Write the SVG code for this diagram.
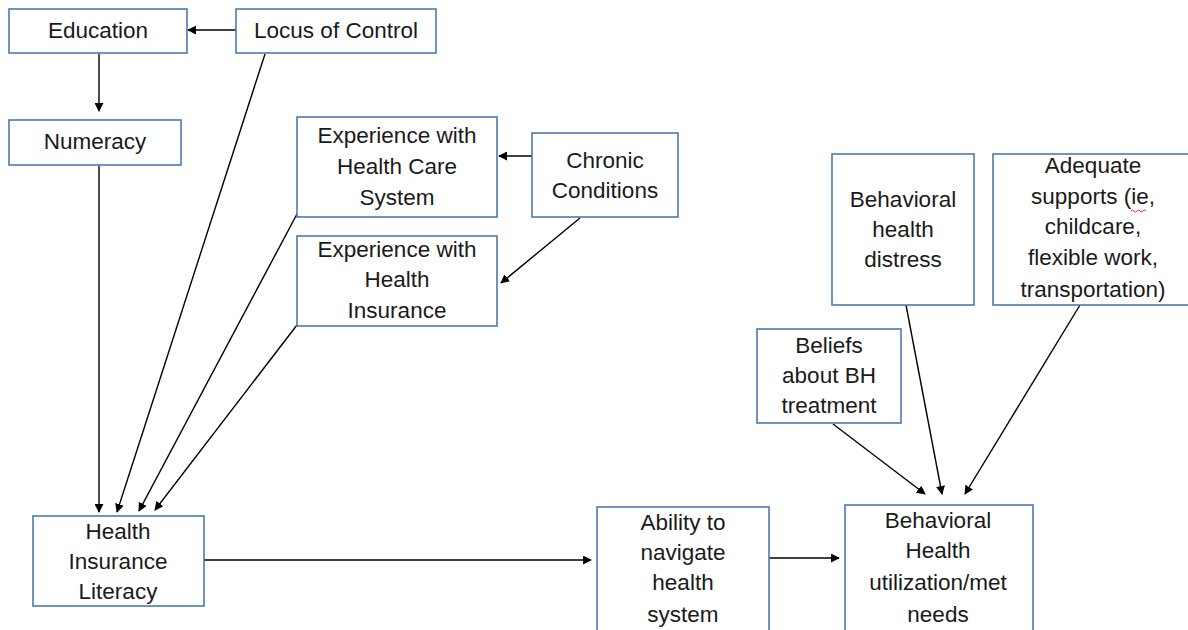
<svg xmlns="http://www.w3.org/2000/svg" width="1188" height="630" viewBox="0 0 1188 630">
<style>
.box{fill:#fff;stroke:#4a7ab0;stroke-width:1.6}
text{font-family:"Liberation Sans",Arial,sans-serif;font-size:22.5px;fill:#1a1a1a;text-anchor:middle}
.c{stroke:#000;stroke-width:1.4;fill:none;marker-end:url(#ah)}
</style>
<defs>
<marker id="ah" viewBox="0 0 10 10" refX="9" refY="5" markerWidth="9" markerHeight="9" markerUnits="userSpaceOnUse" orient="auto"><path d="M0,0 L10,5 L0,10 z" fill="#000"/></marker>
</defs>
<rect width="1188" height="630" fill="#fff"/>
<g id="connectors">
<line class="c" x1="236" y1="30" x2="188" y2="30"/>
<line class="c" x1="99" y1="54" x2="99" y2="111"/>
<line class="c" x1="99" y1="166" x2="99" y2="512"/>
<line class="c" x1="265" y1="54" x2="117" y2="512"/>
<line class="c" x1="297" y1="214" x2="139" y2="511"/>
<line class="c" x1="297" y1="325" x2="155" y2="510"/>
<line class="c" x1="532" y1="156" x2="499" y2="156"/>
<line class="c" x1="580" y1="218" x2="501" y2="283"/>
<line class="c" x1="204" y1="560" x2="591" y2="560"/>
<line class="c" x1="769" y1="558" x2="839" y2="558"/>
<line class="c" x1="833" y1="424" x2="925" y2="494"/>
<line class="c" x1="906" y1="305" x2="942" y2="494"/>
<line class="c" x1="1080" y1="305" x2="965" y2="494"/>
</g>
<g id="education"><rect class="box" x="9" y="9" width="178" height="44"/><text x="98" y="38">Education</text></g>
<g id="locus"><rect class="box" x="236" y="9" width="200" height="44"/><text x="336" y="38">Locus of Control</text></g>
<g id="numeracy"><rect class="box" x="9" y="120" width="172" height="45"/><text x="95" y="149">Numeracy</text></g>
<g id="exp-hcs"><rect class="box" x="297" y="117" width="200" height="100"/><text x="397" y="143">Experience with</text><text x="397" y="174">Health Care</text><text x="397" y="205">System</text></g>
<g id="chronic"><rect class="box" x="532" y="133" width="146" height="84"/><text x="605" y="168">Chronic</text><text x="605" y="198">Conditions</text></g>
<g id="exp-hi"><rect class="box" x="297" y="236" width="200" height="90"/><text x="397" y="257">Experience with</text><text x="397" y="287">Health</text><text x="397" y="318">Insurance</text></g>
<g id="bh-distress"><rect class="box" x="832" y="154" width="142" height="151"/><text x="903" y="207">Behavioral</text><text x="903" y="237">health</text><text x="903" y="267">distress</text></g>
<g id="supports"><rect class="box" x="993" y="154" width="200" height="151"/><text x="1093" y="173">Adequate</text><text x="1093" y="204">supports (ie,</text><text x="1093" y="234">childcare,</text><text x="1093" y="265">flexible work,</text><text x="1093" y="297">transportation)</text><path d="M1131,211 q1.5,-2 3,0 t3,0 t3,0 t3,0 t3,0" fill="none" stroke="#e03030" stroke-width="1"/></g>
<g id="beliefs"><rect class="box" x="757" y="329" width="144" height="94"/><text x="829" y="353">Beliefs</text><text x="829" y="383">about BH</text><text x="829" y="413">treatment</text></g>
<g id="hil"><rect class="box" x="33" y="516" width="171" height="90"/><text x="118" y="539">Health</text><text x="118" y="569">Insurance</text><text x="118" y="599">Literacy</text></g>
<g id="ability"><rect class="box" x="597" y="507" width="172" height="140"/><text x="683" y="530">Ability to</text><text x="683" y="560">navigate</text><text x="683" y="590">health</text><text x="683" y="622">system</text></g>
<g id="bh-util"><rect class="box" x="845" y="505" width="188" height="140"/><text x="938" y="528">Behavioral</text><text x="938" y="558">Health</text><text x="938" y="590">utilization/met</text><text x="938" y="622">needs</text></g>
</svg>
